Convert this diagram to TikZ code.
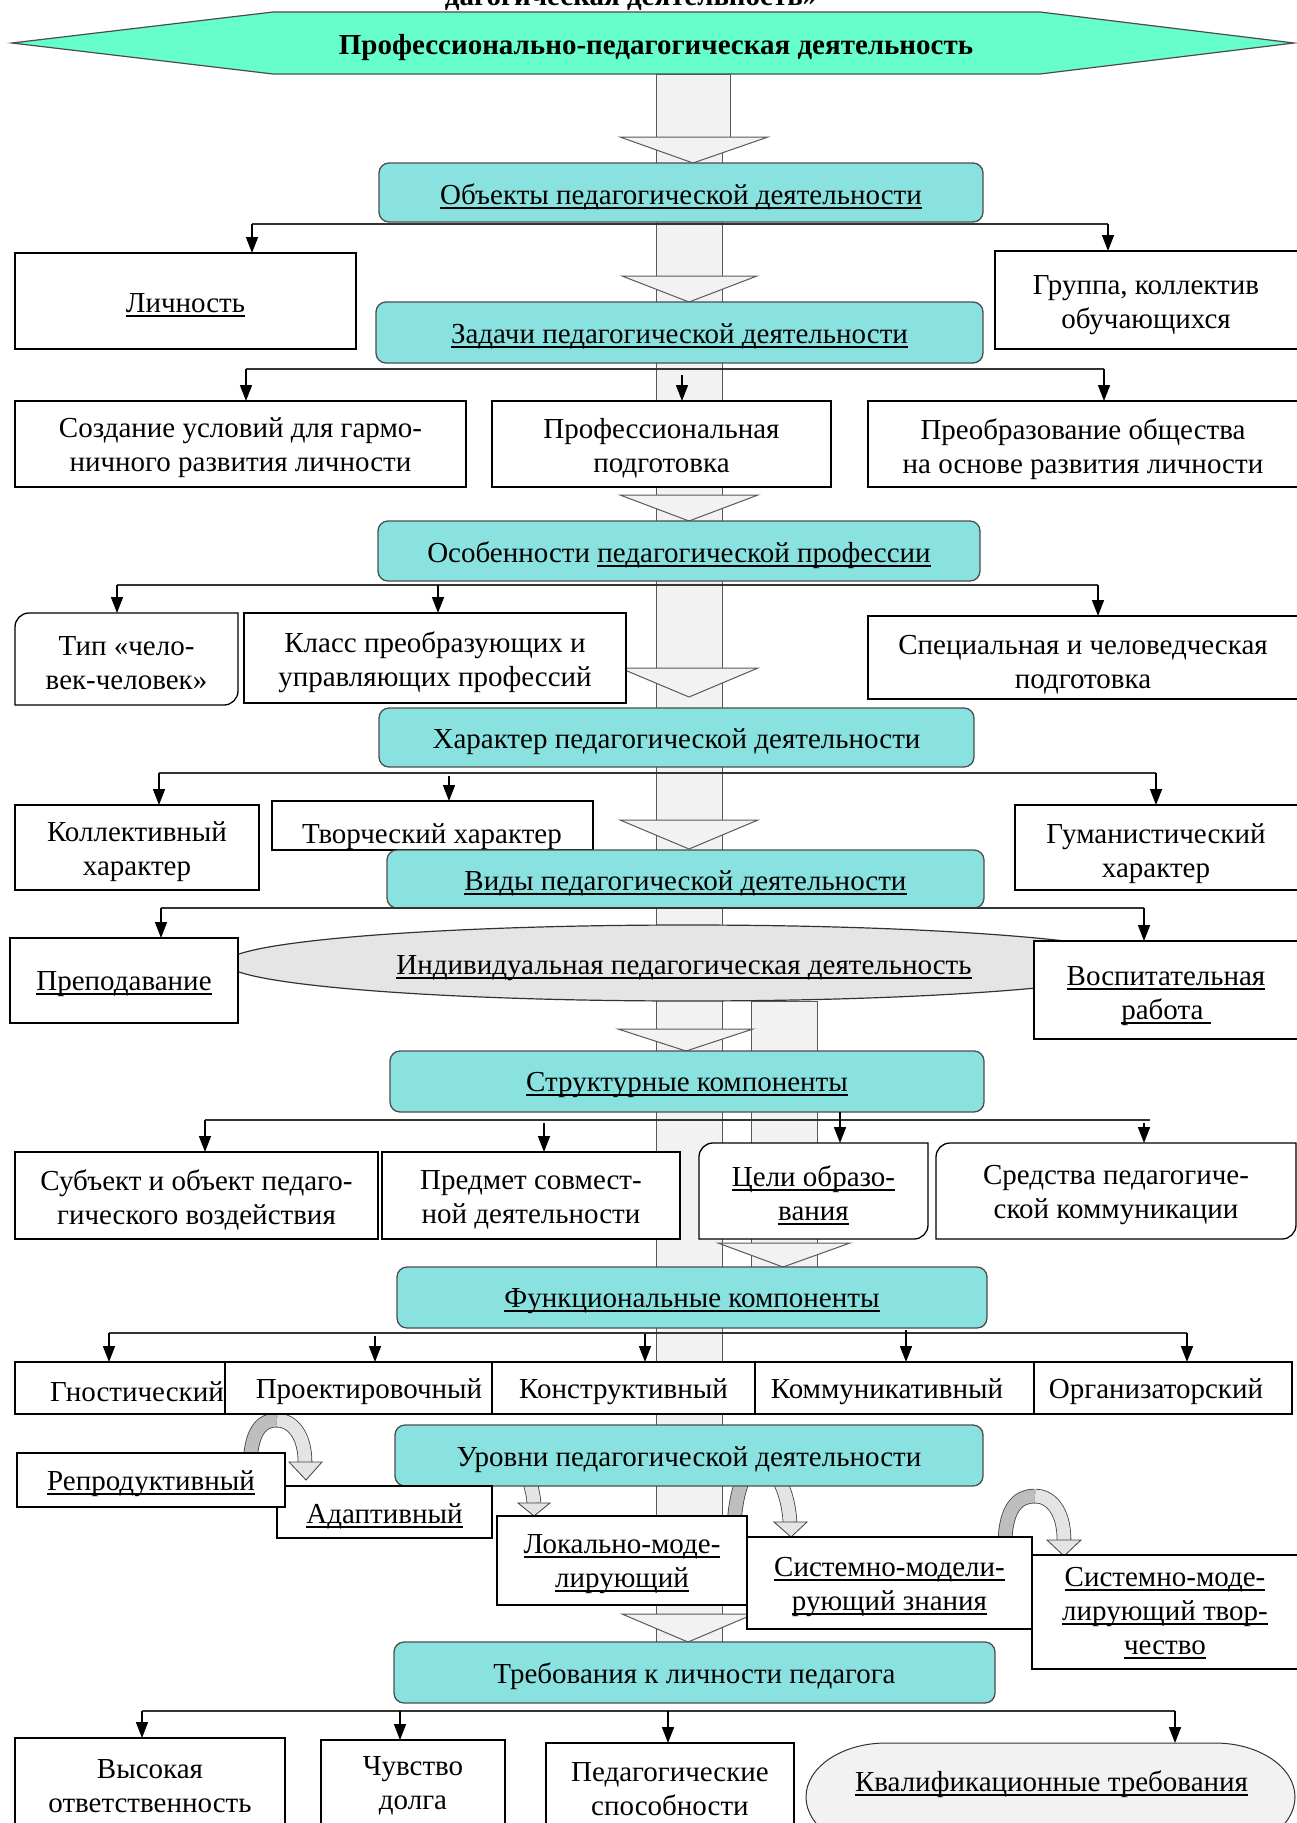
\documentclass[tikz,border=0pt]{standalone}
\usepackage{fontspec}
\setmainfont{Liberation Serif}
\usetikzlibrary{arrows.meta,shapes.geometric,calc}

\definecolor{hexfill}{RGB}{102,255,204}
\definecolor{cyanbox}{RGB}{137,226,224}
\definecolor{spinefill}{RGB}{242,242,242}
\definecolor{ellfill}{RGB}{229,229,229}
\definecolor{kvalfill}{RGB}{242,242,242}
\definecolor{ribdark}{RGB}{190,190,190}
\definecolor{riblight}{RGB}{228,228,228}

% underlined text with a fixed rule just below the baseline
\newcommand\ulx[1]{\setbox0\hbox{#1}\rlap{\rule[-4.5pt]{\wd0}{2pt}}\box0}
% box from corner coordinates: name, style, x1, y1, x2, y2, text
\newcommand\mkbox[7]{%
  \pgfmathsetmacro\bxc{(#3+#5)/2}%
  \pgfmathsetmacro\byc{(#4+#6)/2}%
  \pgfmathsetmacro\bxw{#5-#3}%
  \pgfmathsetmacro\byh{#6-#4}%
  \node[#2, minimum width=\bxw pt, minimum height=\byh pt] (#1) at (\bxc,\byc) {};%
  \if\relax\detokenize{#7}\relax\else
    \node[align=center] (#1-t) at (\bxc,\byc+4) {#7};%
  \fi}
% outline with rounded top-left and bottom-right corners
\newcommand\rshape[4]{%
  \draw[line width=1.3pt, fill=white] (#3,#2) -- (#1+14,#2) arc(270:180:14) -- (#1,#4) -- (#3-14,#4) arc(90:0:14) -- cycle;}

\begin{document}
\begin{tikzpicture}[x=1pt,y=-1pt,
  every node/.style={font=\fontsize{29}{34}\selectfont},
  wbox/.style={draw=black, line width=1.3pt, fill=white, inner sep=0pt, outer sep=0pt, rectangle},
  tbox/.style={inner sep=0pt, outer sep=0pt, rectangle},
  cbox/.style={draw=black!70, line width=1.3pt, fill=cyanbox, rounded corners=10pt, inner sep=0pt, outer sep=0pt},
  spine/.style={fill=spinefill, draw=black!65, line width=1pt},
  hl/.style={draw=black!80, line width=2pt},
  dn/.style={draw=black, line width=1.6pt, -{Triangle[width=12pt,length=16pt]}},
  ribd/.style={draw=black!75, line width=0.8pt, double=ribdark, double distance=13pt},
  ribl/.style={draw=black!75, line width=0.8pt, double=riblight, double distance=13pt},
  ribhead/.style={draw=black!75, line width=0.8pt, fill=riblight},
]
\useasboundingbox (0,0) rectangle (1297,1823);

% ---- grey spine of block arrows
\draw[spine] (656,74) rectangle (722,1642);
\draw[spine] (656,74) rectangle (730,137);
\draw[spine] (751,1001) rectangle (817,1267);
\draw[spine] (620,137) -- (768,137) -- (693,163) -- cycle;
\draw[spine] (622,276) -- (757,276) -- (689,302) -- cycle;
\draw[spine] (620,495) -- (758,495) -- (689,521) -- cycle;
\draw[spine] (620,668) -- (758,668) -- (689,697) -- cycle;
\draw[spine] (620,820) -- (758,820) -- (689,849) -- cycle;
\draw[spine] (618,1029) -- (753,1029) -- (686,1051) -- cycle;
\draw[spine] (718,1243) -- (850,1243) -- (783,1267) -- cycle;
\draw[spine] (622,1614) -- (754,1614) -- (688,1642) -- cycle;

% ---- heading
\node[font=\fontsize{29}{34}\selectfont\bfseries, anchor=base] (ttl) at (631,5) {дагогическая деятельность»};
\draw[fill=hexfill, draw=black!70, line width=1.2pt] (12,43) -- (273,12) -- (1040,12) -- (1294,43) -- (1040,74) -- (273,74) -- cycle;
\node[font=\fontsize{29}{34}\selectfont\bfseries] (root) at (656,48) {Профессионально-педагогическая деятельность};

% ---- ellipse of individual activity
\node[ellipse, draw=black!80, line width=1.2pt, fill=ellfill, minimum width=924pt, minimum height=76pt, inner sep=0pt] (indiv) at (688,963) {};
\node (indiv-t) at (684,968) {\ulx{Индивидуальная педагогическая деятельность}};

% ---- curved level arrows
\draw[ribd] (250,1470) .. controls (250,1430) and (262,1420) .. (277,1420);
\draw[ribl] (277,1420) .. controls (292,1420) and (305,1435) .. (305,1462);
\draw[ribhead] (289,1462) -- (322,1462) -- (306,1480) -- cycle;
\draw[ribl] (526,1470) .. controls (529,1480) and (533,1490) .. (534,1503);
\draw[ribhead] (518,1503) -- (550,1503) -- (534,1516) -- cycle;
\draw[ribd] (734,1525) .. controls (736,1490) and (745,1465) .. (760,1465);
\draw[ribl] (760,1465) .. controls (775,1465) and (788,1490) .. (790,1522);
\draw[ribhead] (774,1522) -- (807,1522) -- (791,1537) -- cycle;
\draw[ribd] (1005,1545) .. controls (1005,1505) and (1020,1496) .. (1035,1496);
\draw[ribl] (1035,1496) .. controls (1050,1496) and (1064,1510) .. (1064,1540);
\draw[ribhead] (1047,1540) -- (1081,1540) -- (1064,1556) -- cycle;

% ---- cyan headings
\mkbox{b1}{cbox}{379}{163}{983}{222}{\ulx{Объекты педагогической деятельности}}
\mkbox{b2}{cbox}{376}{302}{983}{363}{\ulx{Задачи педагогической деятельности}}
\mkbox{b3}{cbox}{378}{521}{980}{581}{Особенности \ulx{педагогической профессии}}
\mkbox{b4}{cbox}{379}{708}{974}{767}{Характер педагогической деятельности}
\mkbox{b6}{cbox}{390}{1051}{984}{1112}{\ulx{Структурные компоненты}}
\mkbox{b7}{cbox}{397}{1267}{987}{1328}{\ulx{Функциональные компоненты}}
\mkbox{b9}{cbox}{394}{1642}{995}{1703}{Требования к личности педагога}

% ---- row: objects
\mkbox{lich}{wbox}{15}{253}{356}{349}{\ulx{Личность}}
\mkbox{grp}{wbox}{995}{251}{1310}{349}{}
\node[align=center] (grp-t) at (1146,305) {Группа, коллектив\\обучающихся};
% ---- row: tasks
\mkbox{sozd}{wbox}{15}{401}{466}{487}{Создание условий для гармо-\\ничного развития личности}
\mkbox{prof}{wbox}{492}{401}{831}{487}{Профессиональная\\подготовка}
\mkbox{preob}{wbox}{868}{401}{1310}{487}{}
\node[align=center] (preob-t) at (1083,449) {Преобразование общества\\на основе развития личности};
% ---- row: features
\rshape{15}{613}{238}{705}
\mkbox{tip}{tbox}{15}{613}{238}{705}{Тип «чело-\\век-человек»}
\mkbox{klass}{wbox}{244}{613}{626}{703}{Класс преобразующих и\\управляющих профессий}
\mkbox{spec}{wbox}{868}{616}{1310}{699}{}
\node[align=center] (spec-t) at (1083,665) {Специальная и человедческая\\подготовка};
% ---- row: character
\mkbox{koll}{wbox}{15}{805}{259}{890}{Коллективный\\характер}
\mkbox{tvor}{wbox}{272}{801}{593}{850}{}
\begin{scope}
  \clip (272,801) rectangle (593,849);
  \node[anchor=base] (tvor-t) at (432,843) {Творческий характер};
\end{scope}
\mkbox{gum}{wbox}{1015}{805}{1310}{890}{}
\node[align=center] (gum-t) at (1156,854) {Гуманистический\\характер};
\mkbox{b5}{cbox}{387}{850}{984}{908}{\ulx{Виды педагогической деятельности}}
% ---- row: kinds
\mkbox{prep}{wbox}{10}{938}{238}{1023}{\ulx{Преподавание}}
\mkbox{vosp}{wbox}{1034}{941}{1310}{1039}{}
\node[align=center] (vosp-t) at (1166,996) {\ulx{Воспитательная}\\\ulx{работа\ }};
% ---- row: structural components
\mkbox{subj}{wbox}{15}{1152}{378}{1239}{Субъект и объект педаго-\\гического воздействия}
\mkbox{pred}{wbox}{382}{1152}{680}{1239}{Предмет совмест-\\ной деятельности}
\rshape{699}{1143}{928}{1239}
\mkbox{celi}{tbox}{699}{1143}{928}{1239}{\ulx{Цели образо-}\\\ulx{вания}}
\rshape{936}{1143}{1296}{1239}
\mkbox{sred}{tbox}{936}{1143}{1296}{1239}{Средства педагогиче-\\ской коммуникации}
% ---- row: functional components
\mkbox{gno}{wbox}{15}{1362}{225}{1414}{}
\node (gno-t) at (137,1392) {Гностический};
\mkbox{pro}{wbox}{225}{1362}{492}{1414}{}
\node (pro-t) at (369,1392) {Проектировочный};
\mkbox{kon}{wbox}{492}{1362}{755}{1414}{Конструктивный}
\mkbox{kom}{wbox}{755}{1362}{1034}{1414}{}
\node (kom-t) at (887,1392) {Коммуникативный};
\mkbox{org}{wbox}{1034}{1362}{1292}{1414}{}
\node (org-t) at (1156,1392) {Организаторский};
% ---- levels
\mkbox{b8}{cbox}{395}{1425}{983}{1486}{Уровни педагогической деятельности}
\mkbox{adap}{wbox}{277}{1486}{492}{1538}{\ulx{Адаптивный}}
\mkbox{rep}{wbox}{17}{1453}{285}{1507}{\ulx{Репродуктивный}}
\mkbox{lok}{wbox}{497}{1516}{747}{1605}{\ulx{Локально-моде-}\\\ulx{лирующий}}
\mkbox{sysz}{wbox}{747}{1537}{1032}{1629}{\ulx{Системно-модели-}\\\ulx{рующий знания}}
\mkbox{syst}{wbox}{1032}{1555}{1310}{1669}{}
\node[align=center] (syst-t) at (1165,1613) {\ulx{Системно-моде-}\\\ulx{лирующий твор-}\\\ulx{чество}};
% ---- requirements
\mkbox{vys}{wbox}{15}{1738}{285}{1826}{Высокая\\ответственность}
\mkbox{chuv}{wbox}{321}{1740}{505}{1824}{Чувство\\долга}
\mkbox{ped}{wbox}{546}{1743}{794}{1827}{Педагогические\\способности}
\draw[line width=1pt, draw=black!80, fill=kvalfill] (806,1797)
  arc[start angle=180, end angle=270, x radius=80, y radius=54] -- (1215,1743)
  arc[start angle=270, end angle=360, x radius=80, y radius=54]
  arc[start angle=0, end angle=90, x radius=80, y radius=54] -- (886,1851)
  arc[start angle=90, end angle=180, x radius=80, y radius=54] -- cycle;
\mkbox{kval}{tbox}{806}{1743}{1297}{1817}{\ulx{Квалификационные требования}}

% ---- black connector trees
\coordinate (h1l) at (252,224); \coordinate (h1r) at (1108,224);
\draw[hl] (h1l) -- (h1r);
\draw[dn] (h1l) -- (h1l |- lich.north);
\draw[dn] (h1r) -- (h1r |- grp.north);

\coordinate (h2l) at (246,369); \coordinate (h2r) at (1104,369); \coordinate (h2m) at (682,375);
\draw[hl] (h2l) -- (h2r);
\draw[dn] (h2l) -- (h2l |- sozd.north);
\draw[dn] (h2m) -- (h2m |- prof.north);
\draw[dn] (h2r) -- (h2r |- preob.north);

\coordinate (h3l) at (117,585); \coordinate (h3r) at (1098,585); \coordinate (h3m) at (438,585);
\draw[hl] (h3l) -- (h3r);
\draw[dn] (h3l) -- (h3l |- tip.north);
\draw[dn] (h3m) -- (h3m |- klass.north);
\draw[dn] (h3r) -- (h3r |- spec.north);

\coordinate (h4l) at (159,773); \coordinate (h4r) at (1156,773); \coordinate (h4m) at (449,776);
\draw[hl] (h4l) -- (h4r);
\draw[dn] (h4l) -- (h4l |- koll.north);
\draw[dn] (h4m) -- (h4m |- tvor.north);
\draw[dn] (h4r) -- (h4r |- gum.north);

\coordinate (h5l) at (161,908); \coordinate (h5r) at (1144,908);
\draw[hl] (h5l) -- (h5r);
\draw[dn] (h5l) -- (h5l |- prep.north);
\draw[dn] (h5r) -- (h5r |- vosp.north);

\coordinate (h6l) at (205,1120); \coordinate (h6r) at (1150,1120);
\coordinate (h6a) at (544,1123); \coordinate (h6b) at (840,1112); \coordinate (h6c) at (1144,1123);
\draw[hl] (h6l) -- (h6r);
\draw[dn] (h6l) -- (h6l |- subj.north);
\draw[dn] (h6a) -- (h6a |- pred.north);
\draw[dn] (h6b) -- (h6b |- celi.north);
\draw[dn] (h6c) -- (h6c |- sred.north);

\coordinate (h7l) at (109,1333); \coordinate (h7r) at (1187,1333);
\coordinate (h7a) at (375,1336); \coordinate (h7b) at (645,1334); \coordinate (h7c) at (906,1330);
\draw[hl] (h7l) -- (h7r);
\draw[dn] (h7l) -- (h7l |- gno.north);
\draw[dn] (h7a) -- (h7a |- pro.north);
\draw[dn] (h7b) -- (h7b |- kon.north);
\draw[dn] (h7c) -- (h7c |- kom.north);
\draw[dn] (h7r) -- (h7r |- org.north);

\coordinate (h9l) at (142,1711); \coordinate (h9r) at (1175,1711);
\coordinate (h9a) at (400,1711); \coordinate (h9b) at (668,1711);
\draw[hl] (h9l) -- (h9r);
\draw[dn] (h9l) -- (h9l |- vys.north);
\draw[dn] (h9a) -- (h9a |- chuv.north);
\draw[dn] (h9b) -- (h9b |- ped.north);
\draw[dn] (h9r) -- (h9r |- kval.north);
\end{tikzpicture}
\end{document}
